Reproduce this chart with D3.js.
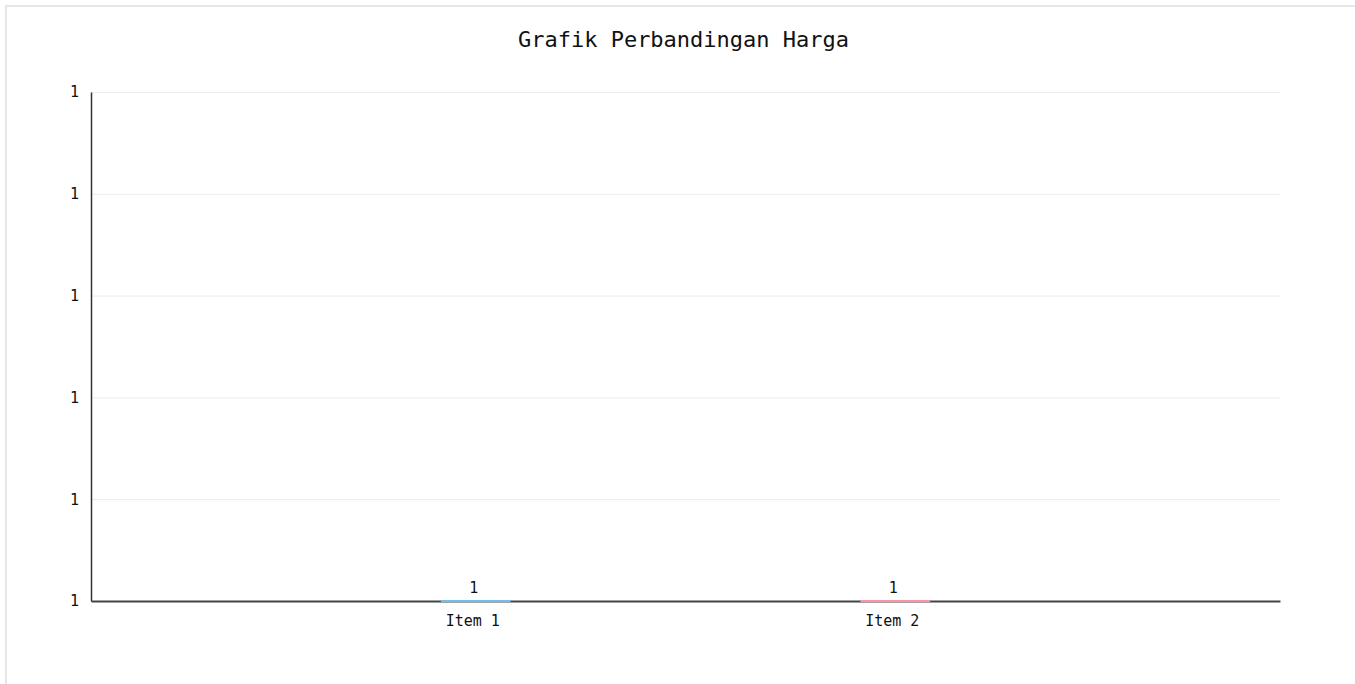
<!DOCTYPE html>
<html>
<head>
<meta charset="utf-8">
<style>
body { margin: 0; background: #fff; }
.frame { position: absolute; left: 5px; top: 5px; width: 1400px; height: 720px;
  border-left: 2px solid #e6e6e6; border-top: 2px solid #e6e6e6; }
svg { position: absolute; left: 0; top: 0; font-family: "DejaVu Sans Mono", monospace; }
.grid line { stroke: #ebebeb; }
.grid .domain { display: none; }
</style>
</head>
<body>
<div class="frame"></div>
<svg id="thevis" width="1355" height="684"></svg>
<script src="https://cdn.jsdelivr.net/npm/d3@7"></script>
<script>
// data
var items = ["Item 1", "Item 2"];
var prices = [1, 1];
var barColors = ["#72bdf0", "#ff91a6"];
var yTickLabels = ["1", "1", "1", "1", "1", "1"];

var svg = d3.select("svg");
var margin = {top: 92, right: 75, bottom: 83, left: 91};
var width = +svg.attr("width") - margin.left - margin.right;
var height = +svg.attr("height") - margin.top - margin.bottom;

var x = d3.scaleBand().domain(items).range([0, width]).padding(0.834);
// every value is equal, so the axis starts at the value itself
var y = d3.scaleLinear().domain([1, 1.005]).range([height, 0]);
var yTicks = y.ticks(5);

var g = svg.append("g")
    .attr("transform", "translate(" + margin.left + "," + margin.top + ")");

// grid
g.append("g")
    .attr("class", "grid")
    .call(d3.axisLeft(y).tickValues(yTicks).tickSize(-width).tickFormat(""));

// y axis
var yAxis = g.append("g")
    .call(d3.axisLeft(y).tickValues(yTicks).tickSize(0).tickPadding(12)
      .tickFormat(function(d, i) { return yTickLabels[i]; }));
yAxis.select(".domain").attr("stroke", "#333").attr("stroke-width", 1.5);
yAxis.selectAll("text").attr("font-size", 15).attr("fill", "#111")
    .attr("font-family", "DejaVu Sans Mono");

// x axis
var xAxis = g.append("g")
    .attr("transform", "translate(0," + height + ")")
    .call(d3.axisBottom(x).tickSize(0).tickPadding(14));
xAxis.select(".domain").attr("stroke", "#444").attr("stroke-width", 2);
xAxis.selectAll("text").attr("font-size", 15).attr("fill", "#111")
    .attr("dx", -3)
    .attr("font-family", "DejaVu Sans Mono");

// bars (zero height, so they show as a strip on the axis)
g.selectAll(".bar")
    .data(prices)
    .enter().append("rect")
      .attr("class", "bar")
      .attr("x", function(d, i) { return x(items[i]); })
      .attr("width", x.bandwidth())
      .attr("y", function(d) { return y(d) - 1; })
      .attr("height", function(d) { return Math.max(2, height - y(d)); })
      .attr("fill", function(d, i) { return barColors[i]; });

// value labels
g.selectAll(".val")
    .data(prices)
    .enter().append("text")
      .attr("x", function(d, i) { return x(items[i]) + x.bandwidth() / 2 - 2; })
      .attr("y", function(d) { return y(d) - 8; })
      .attr("text-anchor", "middle")
      .attr("font-size", 15)
      .attr("fill", "#111")
      .text(function(d) { return d; });

// title
svg.append("text")
    .attr("x", margin.left + width / 2 - 2)
    .attr("y", 47)
    .attr("text-anchor", "middle")
    .attr("font-size", 22)
    .attr("fill", "#111")
    .text("Grafik Perbandingan Harga");
</script>
</body>
</html>
